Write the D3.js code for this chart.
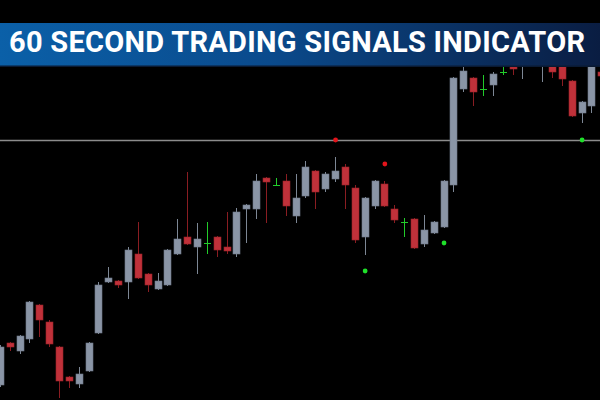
<!DOCTYPE html>
<html>
<head>
<meta charset="utf-8">
<script src="https://cdn.jsdelivr.net/npm/d3@7"></script>
<style>
html,body{margin:0;padding:0;background:#000;}
svg{display:block;}
</style>
</head>
<body>
<svg id="chart" width="600" height="400"></svg>
<script>
const titleText = "60 SECOND TRADING SIGNALS INDICATOR";

const opens = [1.1015,1.1057,1.1049,1.1061,1.1095,1.1078,1.1053,1.1023,1.1016,1.1029,1.1067,1.1118,1.1119,1.1118,1.1146,1.1126,1.1111,1.1115,1.1146,1.1163,1.1153,1.1157,1.1163,1.1153,1.1146,1.1191,1.1191,1.1222,1.1215,1.1219,1.1184,1.1204,1.1229,1.1211,1.1221,1.1233,1.1212,1.1163,1.1194,1.1216,1.1191,1.1178,1.1181,1.1156,1.1167,1.1173,1.1215,1.1311,1.1322,1.1311,1.1315,1.1328,1.1333,1.1340,1.1350,1.1338,1.1340,1.1338,1.1319,1.1287,1.1294,1.1328];
const closes = [1.1053,1.1053,1.1064,1.1098,1.1080,1.1056,1.1019,1.1019,1.1026,1.1057,1.1115,1.1122,1.1115,1.1150,1.1122,1.1115,1.1119,1.1150,1.1161,1.1156,1.1161,1.1157,1.1150,1.1149,1.1188,1.1195,1.1219,1.1218,1.1215,1.1194,1.1202,1.1233,1.1208,1.1226,1.1229,1.1215,1.1160,1.1202,1.1219,1.1194,1.1180,1.1178,1.1152,1.1170,1.1178,1.1219,1.1322,1.1329,1.1308,1.1311,1.1326,1.1328,1.1331,1.1345,1.1358,1.1345,1.1328,1.1321,1.1284,1.1298,1.1350,1.1324];
const highs = [1.1055,1.1058,1.1065,1.1099,1.1096,1.1080,1.1054,1.1024,1.1033,1.1058,1.1118,1.1133,1.1120,1.1153,1.1178,1.1127,1.1127,1.1151,1.1181,1.1228,1.1177,1.1178,1.1164,1.1188,1.1192,1.1196,1.1226,1.1223,1.1222,1.1226,1.1226,1.1239,1.1230,1.1228,1.1243,1.1236,1.1215,1.1203,1.1220,1.1219,1.1195,1.1182,1.1182,1.1185,1.1179,1.1220,1.1323,1.1334,1.1323,1.1325,1.1328,1.1334,1.1340,1.1350,1.1362,1.1350,1.1345,1.1342,1.1320,1.1299,1.1355,1.1329];
const lows = [1.1013,1.1049,1.1046,1.1057,1.1063,1.1053,1.1002,1.1012,1.1012,1.1028,1.1066,1.1117,1.1112,1.1101,1.1121,1.1108,1.1110,1.1114,1.1145,1.1155,1.1126,1.1146,1.1143,1.1146,1.1143,1.1157,1.1181,1.1177,1.1214,1.1184,1.1177,1.1202,1.1191,1.1208,1.1218,1.1191,1.1157,1.1145,1.1191,1.1193,1.1177,1.1163,1.1151,1.1153,1.1166,1.1172,1.1208,1.1308,1.1294,1.1304,1.1304,1.1325,1.1325,1.1321,1.1342,1.1318,1.1322,1.1314,1.1283,1.1277,1.1287,1.1323];

const sellSignalIdx = [34, 39];
const sellSignalPrice = [1.1260, 1.1236];
const buySignalIdx = [37, 45, 59];
const buySignalPrice = [1.1129, 1.1157, 1.1260];
const levelPrice = 1.1260;

const W = 600, H = 400;
const svg = d3.select("#chart");

svg.append("rect").attr("width", W).attr("height", H).attr("fill", "#000");

const x = d3.scalePoint().domain(d3.range(opens.length)).range([-0.2, 601.3]);
const y = d3.scaleLinear().domain([1.1000, 1.1400]).range([400, 0]);

const candles = opens.map((o, i) => ({i, o, c: closes[i], h: highs[i], l: lows[i]}));

const bodyW = 7;
const colors = {
  up: "#8a95a6", upWick: "#7d8795",
  down: "#c0313a", downWick: "#8a1d22",
  doji: "#22cc2a"
};

// level line
svg.append("line")
  .attr("x1", 0).attr("x2", W)
  .attr("y1", Math.round(y(levelPrice)) + 0.5).attr("y2", Math.round(y(levelPrice)) + 0.5)
  .attr("stroke", "#8c8c8c").attr("stroke-width", 1.5);

const g = svg.append("g");
candles.forEach(d => {
  const cx = Math.round(x(d.i));
  const kind = d.c > d.o ? "up" : (d.c < d.o ? "down" : "doji");
  const wickCol = kind === "up" ? colors.upWick : kind === "down" ? colors.downWick : colors.doji;
  g.append("line")
    .attr("x1", cx + 0.5).attr("x2", cx + 0.5)
    .attr("y1", y(d.h)).attr("y2", y(d.l))
    .attr("stroke", wickCol).attr("stroke-width", 1);
  if (kind === "doji") {
    const yy = Math.round(y(d.o)) + 0.5;
    g.append("line")
      .attr("x1", cx - 3).attr("x2", cx + 4)
      .attr("y1", yy).attr("y2", yy)
      .attr("stroke", colors.doji).attr("stroke-width", 1);
  } else {
    const top = y(Math.max(d.o, d.c)), bot = y(Math.min(d.o, d.c));
    g.append("rect")
      .attr("x", cx - 3).attr("width", bodyW)
      .attr("y", top).attr("height", Math.max(1, bot - top))
      .attr("fill", kind === "up" ? colors.up : colors.down)
      .attr("stroke", kind === "up" ? "#6f7a8a" : "#9a2229")
      .attr("stroke-width", 0.6);
  }
});

// signals
sellSignalIdx.forEach((idx, k) => {
  svg.append("circle").attr("cx", x(idx) + 0.5).attr("cy", y(sellSignalPrice[k]))
    .attr("r", 2.4).attr("fill", "#e3141b");
});
buySignalIdx.forEach((idx, k) => {
  svg.append("circle").attr("cx", x(idx) + 0.5).attr("cy", y(buySignalPrice[k]))
    .attr("r", 2.4).attr("fill", "#1fe02a");
});

// top black strip and banner
svg.append("rect").attr("x", 0).attr("y", 0).attr("width", W).attr("height", 23).attr("fill", "#000");
const defs = svg.append("defs");
const grad = defs.append("linearGradient").attr("id", "bannerGrad").attr("x1", "0%").attr("x2", "100%");
grad.append("stop").attr("offset", "0%").attr("stop-color", "#0b60a8");
grad.append("stop").attr("offset", "45%").attr("stop-color", "#0a4a8c");
grad.append("stop").attr("offset", "100%").attr("stop-color", "#0a1d42");
svg.append("rect").attr("x", 0).attr("y", 23).attr("width", W).attr("height", 44).attr("fill", "url(#bannerGrad)");
svg.append("rect").attr("x", 0).attr("y", 65.5).attr("width", W).attr("height", 1.5).attr("fill", "#0a1a33");

// title: fit naturally into the target width (no glyph compression)
const targetW = 576;
const title = svg.append("text")
  .attr("x", 9).attr("y", 52)
  .attr("font-family", "Roboto, Inter, sans-serif")
  .attr("font-weight", 700).attr("font-size", 29)
  .attr("fill", "#ffffff")
  .text(titleText);
let L = title.node().getComputedTextLength();
if (L > targetW) {
  title.attr("font-size", 29 * targetW / L);
} else {
  title.attr("letter-spacing", ((targetW - L) / (titleText.length - 1)).toFixed(3));
}
</script>
</body>
</html>
